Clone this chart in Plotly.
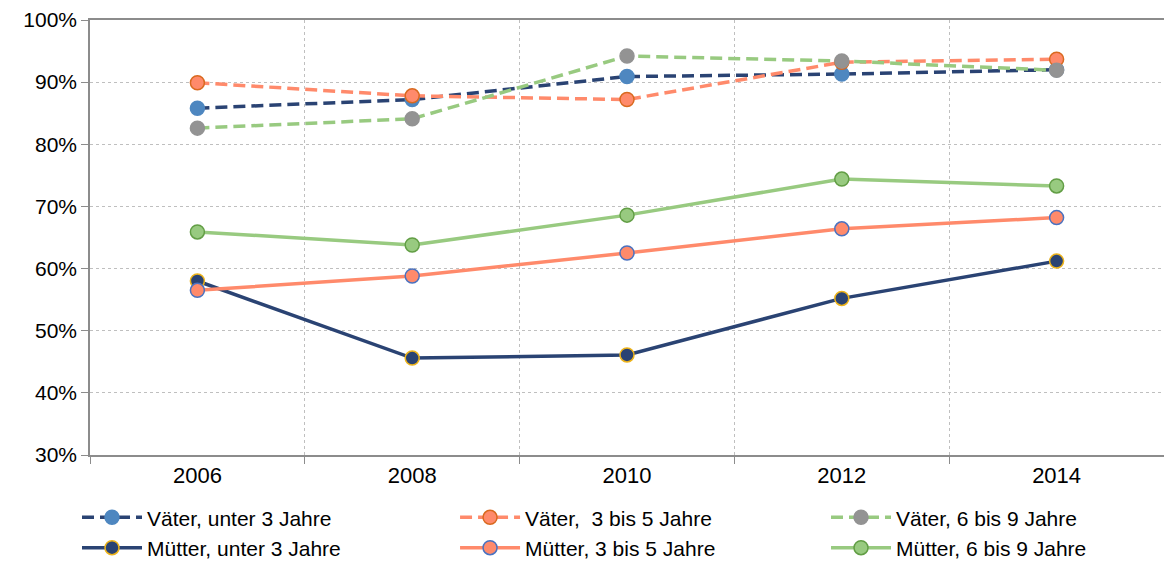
import plotly.graph_objects as go

years = ["2006", "2008", "2010", "2012", "2014"]

vaeter_u3 = [85.8, 87.2, 90.9, 91.3, 92.0]
vaeter_3_5 = [89.9, 87.8, 87.2, 93.2, 93.7]
vaeter_6_9 = [82.6, 84.1, 94.2, 93.4, 91.9]
muetter_u3 = [58.0, 45.6, 46.1, 55.2, 61.2]
muetter_3_5 = [56.5, 58.8, 62.5, 66.4, 68.2]
muetter_6_9 = [65.9, 63.8, 68.6, 74.4, 73.3]

navy = "#2A4373"
salmon = "#FF8A6B"
green = "#98CA80"

# name, values, line colour, dash, marker fill, marker edge, legend column
series = [
    ("Väter, unter 3 Jahre", vaeter_u3, navy, "12px,6px", "#4E87C0", "#4E87C0", "legend"),
    ("Väter,  3 bis 5 Jahre", vaeter_3_5, salmon, "12px,6px", "#FF8A6B", "#D9691F", "legend2"),
    ("Väter, 6 bis 9 Jahre", vaeter_6_9, green, "12px,6px", "#939393", "#939393", "legend3"),
    ("Mütter, unter 3 Jahre", muetter_u3, navy, "solid", navy, "#EDB31A", "legend"),
    ("Mütter, 3 bis 5 Jahre", muetter_3_5, salmon, "solid", "#FF8A6B", "#4A72C0", "legend2"),
    ("Mütter, 6 bis 9 Jahre", muetter_6_9, green, "solid", green, "#629E45", "legend3"),
]

fig = go.Figure()
for name, vals, lc, dash, mc, mlc, leg in series:
    fig.add_trace(go.Scatter(
        x=years, y=vals, name=name, mode="lines+markers", legend=leg,
        line=dict(color=lc, width=3.5, dash=dash),
        marker=dict(size=14, color=mc, line=dict(color=mlc, width=1.5)),
    ))

leg_style = dict(orientation="v", y=-0.097, xanchor="left", yanchor="top",
                 itemwidth=60, font=dict(size=21), tracegroupgap=0)

fig.update_layout(
    width=1164, height=563,
    margin=dict(l=90, r=0, t=20, b=108, autoexpand=False),
    plot_bgcolor="white", paper_bgcolor="white",
    font=dict(family="Liberation Sans, Arial, sans-serif", size=22, color="black"),
    legend=dict(x=-0.0121, **leg_style),
    legend2=dict(x=0.3399, **leg_style),
    legend3=dict(x=0.6853, **leg_style),
    showlegend=True,
)
fig.update_xaxes(
    type="category", tickson="boundaries", range=[-0.5, 4.5],
    showgrid=True, gridcolor="#BFBFBF", griddash="dot", gridwidth=1,
    showline=True, linecolor="#8C8C8C", linewidth=1.5, mirror=True,
    ticks="outside", ticklen=7, tickcolor="#8C8C8C",
    tickfont=dict(size=22), automargin=False,
)
fig.update_yaxes(
    range=[30, 100], dtick=10, ticksuffix="%",
    showgrid=True, gridcolor="#BFBFBF", griddash="dot", gridwidth=1,
    showline=True, linecolor="#8C8C8C", linewidth=1.5,
    ticks="outside", ticklen=7, tickcolor="#8C8C8C",
    tickfont=dict(size=21), zeroline=False, automargin=False,
)

# page body has an 8px default margin, drop it so the figure sits at 0,0
fig.write_html("out.html", config={"displayModeBar": False},
               post_script="document.body.style.margin='0px';")
